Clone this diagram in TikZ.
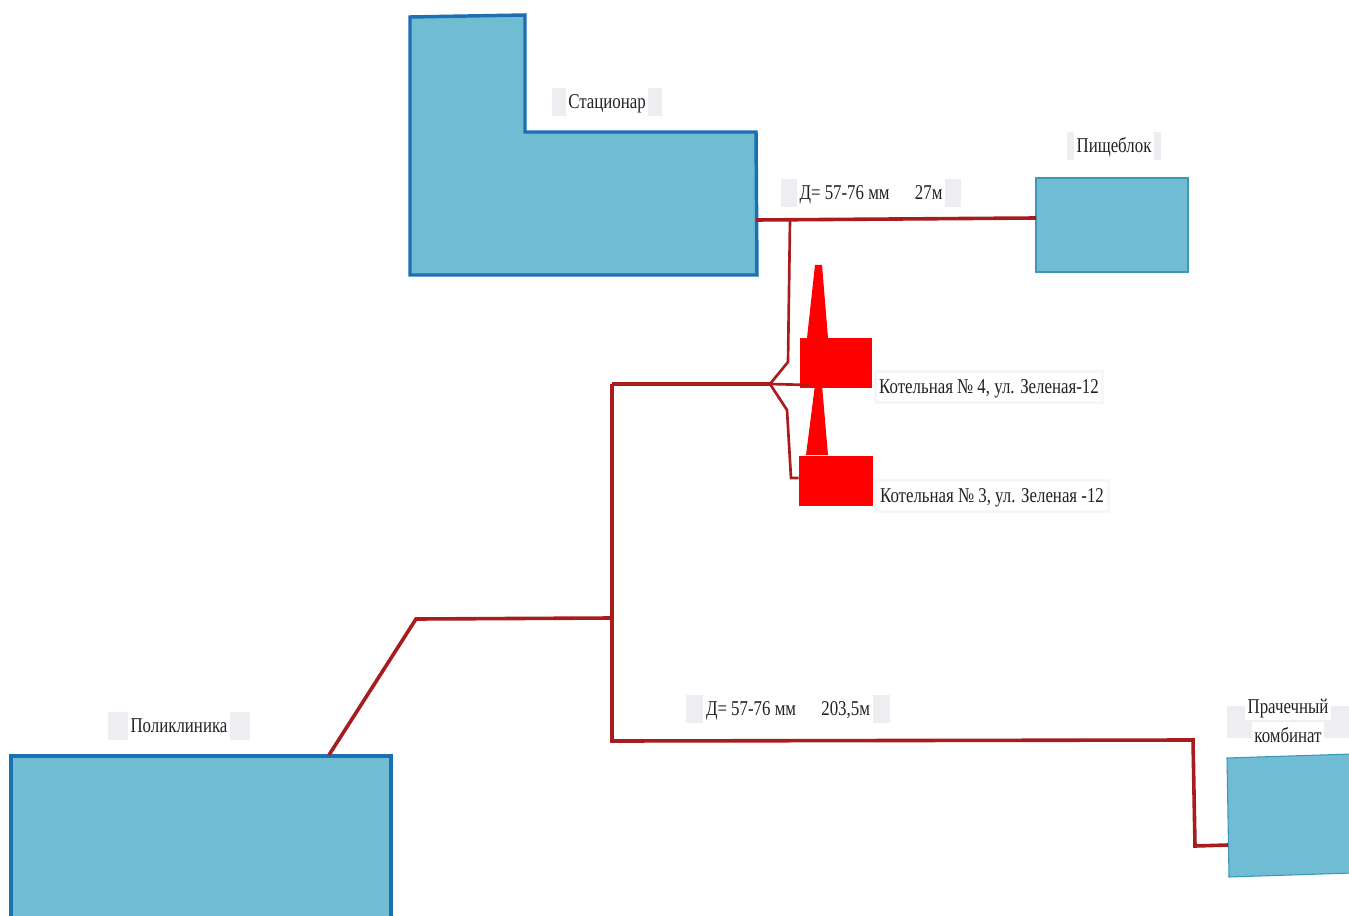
\documentclass[tikz,border=0pt]{standalone}
\usepackage{xcolor}
\usepackage{fontspec}
\setmainfont[FakeStretch=0.8]{Liberation Serif}
\usetikzlibrary{positioning}
\definecolor{BlockFill}{HTML}{70BDD3}
\definecolor{BlockEdge}{HTML}{1C6FB0}
\definecolor{BlockThin}{HTML}{3D97BB}
\definecolor{PipeRed}{HTML}{A81C1E}
\definecolor{PatchGrey}{HTML}{EEEEF2}
\definecolor{PatchPale}{HTML}{F6F6F8}
\definecolor{InkGrey}{HTML}{222222}
\tikzset{
  plan/block/.style={draw=BlockEdge, line width=2.6pt, fill=BlockFill, inner sep=0pt},
  plan/thinblock/.style={draw=BlockThin, line width=0.8pt, fill=BlockFill, inner sep=0pt},
  plan/boiler/.style={fill=red, inner sep=0pt},
  plan/pipe/.style={draw=PipeRed, line width=2.7pt, line join=miter},
  plan/feed/.style={draw=PipeRed, line width=2pt, line join=miter},
  plan/label/.style={fill=PatchGrey, inner xsep=0pt, inner ysep=0pt, minimum height=20pt, align=center, text=InkGrey, font=\fontsize{15.8}{20}\selectfont},
  plan/palelabel/.style={plan/label, fill=PatchPale, minimum height=25pt}
}
\setlength{\fboxsep}{2pt}
\newcommand{\cleartext}[1]{\colorbox{white}{\raisebox{0pt}[0.85em][0.2em]{#1}}}

\begin{document}
\begin{tikzpicture}[x=0.75pt, y=-0.75pt]
  \useasboundingbox (0,0) rectangle (1349,916);
  % junctions
  \coordinate (stac-out) at (756,220);
  \coordinate (pish-in) at (1036,218);
  \coordinate (tee-top) at (790,220);
  \coordinate (bend-up) at (788,362);
  \coordinate (fork) at (770,384);
  \coordinate (bend-dn) at (787,410);
  \coordinate (kink-dn) at (791,478);
  \coordinate (corner) at (612,384);
  \coordinate (tee-mid) at (612,618);
  \coordinate (bend-pol) at (416,619);
  \coordinate (pol-in) at (329,755);
  \coordinate (corner-low) at (612,741);
  \coordinate (corner-r) at (1193,740);
  \coordinate (corner-d) at (1195,846);
  \coordinate (pra-in) at (1228,845);
  % buildings
  \draw[plan/block] (410,17) -- (525,15) -- (525,132) -- (756,132) -- (757,275) -- (410,275) -- cycle;
  \node[plan/thinblock, minimum width=114pt, minimum height=70.5pt] (pishcheblok) at (1112,225) {};
  \node[plan/block, minimum width=285pt, minimum height=135pt] (poliklinika) at (201,846) {};
  \draw[plan/thinblock] (1227,758) -- (1352,754) -- (1352,873) -- (1229,877) -- cycle;
  % boilers
  \fill[red] (807,338) -- (815,265) -- (822,265) -- (828,338) -- cycle;
  \node[plan/boiler, minimum width=54pt, minimum height=37.5pt] (kot4) at (836,363) {};
  \fill[red] (806,455) -- (815,385) -- (822,385) -- (828,455) -- cycle;
  \node[plan/boiler, minimum width=55.5pt, minimum height=37.5pt] (kot3) at (836,480.5) {};
  % pipes
  \draw[plan/pipe] (stac-out) -- (pish-in);
  \draw[plan/feed] (tee-top) -- (bend-up) -- (fork) -- (bend-dn) -- (kink-dn) -- (kot3.west |- kink-dn);
  \draw[plan/pipe] (corner) -- (fork);
  \draw[plan/feed] (fork) -- (809,385);
  \draw[plan/pipe] (corner) -- (corner-low) -- (corner-r) -- (corner-d) -- (pra-in);
  \draw[plan/pipe] (tee-mid) -- (bend-pol) -- (pol-in);
  % labels
  \node[plan/label, minimum width=82.5pt] (stacionar-lbl) at (607,102) {\cleartext{Стационар}};
  \node[plan/label, minimum width=71pt] (pishcheblok-lbl) at (1114,146) {\cleartext{Пищеблок}};
  \node[plan/label, minimum width=135pt] (pipe1-lbl) at (871,193) {\cleartext{Д= 57-76 мм\hspace{1.2em}27м}};
  \node[plan/palelabel, minimum width=172pt] (kot4-lbl) at (989,387) {\cleartext{Котельная № 4, ул. Зеленая-12}};
  \node[plan/palelabel, minimum width=177pt] (kot3-lbl) at (992,496) {\cleartext{Котельная № 3, ул. Зеленая -12}};
  \node[plan/label, minimum width=107pt] (poliklinika-lbl) at (179,726) {\cleartext{Поликлиника}};
  \node[plan/label, minimum width=153pt] (pipe2-lbl) at (788,709) {\cleartext{Д= 57-76 мм\hspace{1.2em}203,5м}};
  \fill[PatchGrey] (1227,706) rectangle (1349,738);
  \node[plan/label, fill=none, minimum width=0pt, inner sep=0pt] (prachechny-lbl) at (1288,721) {\cleartext{Прачечный}\\[0.5pt]\cleartext{комбинат}};
\end{tikzpicture}
\end{document}
